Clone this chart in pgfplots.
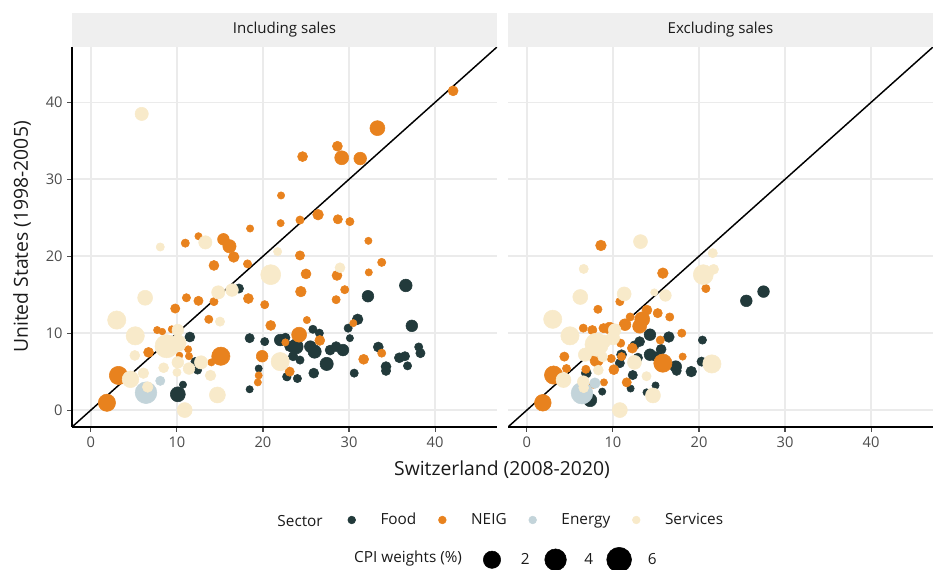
\documentclass[border=0pt]{standalone}
\usepackage{fontspec}
\setmainfont{Open Sans}
\usepackage{pgfplots}
\pgfplotsset{compat=1.18}
\definecolor{food}{HTML}{223A3B}
\definecolor{neig}{HTML}{E8821E}
\definecolor{energy}{HTML}{C3D4DA}
\definecolor{serv}{HTML}{F8EACA}
\definecolor{gridc}{HTML}{EBEBEB}
\definecolor{stripc}{HTML}{EFEFEF}
\definecolor{tickc}{HTML}{4D4D4D}
\definecolor{txt}{HTML}{1A1A1A}
\pgfplotsset{
 panel/.style={
  at={(#1,107.25pt)}, anchor=south west,
  scale only axis, width=318.75pt, height=285pt,
  xmin=-2.2, xmax=47.2, ymin=-2.2, ymax=47.2,
  xtick={0,10,20,30,40}, ytick={0,10,20,30,40},
  axis x line*=bottom, axis y line*=left,
  axis line style={-, black, line width=1.3pt},
  grid=major, major grid style={gridc, line width=1.2pt},
  tick align=outside, major tick length=3.5pt,
  tick style={tickc, line width=0.8pt},
  tick label style={font=\fontsize{11}{13}\selectfont, text=tickc},
  /pgf/number format/assume math mode=true,
 },
 bub/.style={
  scatter, only marks, mark=*,
  scatter/use mapped color={draw=#1, fill=#1},
  visualization depends on={\thisrow{d}\as\dd},
  scatter/@pre marker code/.append style={/tikz/mark size=0.375*\dd},
 },
 legbox/.style={
  hide axis, scale only axis, width=1pt, height=1pt,
  xmin=0, xmax=1, ymin=0, ymax=1,
  at={(#1)}, anchor=south west,
  legend columns=-1,
  legend image code/.code={\path[draw=none, fill=none] (-12pt,-6pt) rectangle (12pt,6pt); \draw[##1] plot coordinates {(0pt,0pt)};},
  legend style={at={(0,0)}, anchor=west, draw=none, fill=none, inner sep=0pt, outer sep=0pt,
   font=\fontsize{11.5}{13}\selectfont, text=txt,
   /tikz/every even column/.append style={column sep=5.5pt},
   /tikz/every odd column/.append style={column sep=7.6pt}},
 },
}
\begin{document}
\begin{tikzpicture}[x=1pt,y=1pt]
\path[use as bounding box] (0,0) rectangle (699.75,427.5);

% ---------- Left panel: Including sales ----------
\begin{axis}[panel=54pt]
\addplot[bub=food] table {
x y d
17.2 15.8 9.3
11.5 9.5 10
12.1 6.3 8.3
12.4 5.2 8.3
10.7 3.3 7.3
10.1 2.05 15
18.45 9.35 9.3
20.2 8.9 8.3
19.5 5.4 7.3
18.45 2.7 7.3
22.0 9.1 11.7
22.8 4.3 8
36.6 16.2 12.7
32.2 14.8 11.7
31.0 11.8 10.7
29.9 10.65 8.3
37.3 10.95 11.7
30.1 9.35 7.3
25.8 10.5 8.3
26.55 10.0 8.3
23.8 8.25 15
23.1 8.25 10
25.5 8.25 11.7
26.0 7.6 13.3
23.5 7.0 9.3
24.3 6.5 8.3
27.8 7.8 10
28.5 8.25 10
29.3 7.8 11.7
27.4 6.0 13.3
33.4 8.2 10
35.85 6.8 10
36.5 7.0 9.3
38.1 8.2 8.3
38.3 7.4 9.3
36.8 5.75 8.3
34.3 5.65 10
34.3 5.1 9.3
30.6 4.8 8.3
25.9 4.8 10
22.75 4.35 8.3
24.0 4.1 8.3
22.6 9.4 9.3
};
\addplot[bub=neig] table {
x y d
10.97 21.7 8.3
12.5 22.6 7.3
15.4 22.2 11.7
16.1 21.3 13.3
16.6 19.9 10.7
18.5 23.6 7.3
14.3 18.8 10
18.2 19.0 8.3
18.3 14.5 10
20.2 13.7 8.3
20.9 11.0 10
11.1 14.6 8.3
12.5 14.2 9.3
14.3 14.1 8.3
9.8 13.2 9.3
13.7 11.8 8.3
7.7 10.4 7.3
8.3 10.2 6.7
9.4 10.5 7.3
11.3 7.9 7.3
6.7 7.5 10
10.3 7.1 6.7
11.4 7.0 7.3
15.1 7.0 18.3
14.0 6.2 7.3
3.2 4.5 18.3
1.86 0.95 17.3
19.9 7.0 11.7
19.5 4.5 7.3
19.4 3.6 7.3
22.6 8.8 7.3
24.3 20.1 9.3
25.0 17.7 10
28.6 17.5 10
33.8 19.2 8.3
32.3 17.9 7.3
24.4 15.4 10.7
29.5 15.65 8.3
28.5 14.35 8.3
25.1 11.7 7.3
30.5 11.3 7.3
24.2 9.8 15
26.6 9.05 10
33.8 7.4 8.3
31.7 6.6 10
23.1 5.0 9.3
42.1 41.5 10
33.3 36.65 15
28.65 34.3 10
29.15 32.8 14
31.3 32.7 12.7
24.6 32.95 10
22.1 27.9 7.3
22.05 24.3 7.3
24.3 24.7 8.3
26.4 25.4 10.7
28.7 24.8 9.3
30.1 24.5 8.3
32.25 22.0 7.3
};
\addplot[bub=energy] table {
x y d
8.06 3.8 9.3
6.4 2.25 21.7
};
\addplot[bub=serv] table {
x y d
8.06 21.2 8.3
13.3 21.8 13.3
21.7 20.6 8.3
20.9 17.6 20
16.4 15.6 12.7
14.8 15.3 13.3
6.3 14.6 15
3.0 11.7 18.3
15.0 11.5 9.3
10.1 10.4 11.7
5.15 9.65 18.3
8.8 8.3 23.3
10.1 8.7 16.7
5.1 7.1 10
12.8 6.2 13.3
10.1 6.2 11.7
11.4 5.4 11.7
8.45 5.5 10
10.0 4.9 8.3
13.9 4.5 10.7
4.6 4.0 16.7
6.1 4.8 10.7
6.6 3.0 10.7
14.7 1.96 16
10.9 0.0 15
22.0 6.3 18.3
28.95 18.5 10
5.9 38.5 13.3
};
\addplot[black, line width=1.1pt] coordinates {(-2.2,-2.2) (47.2,47.2)};
\end{axis}

% ---------- Right panel: Excluding sales ----------
\begin{axis}[panel=381pt, y axis line style={draw=none}, ytick style={draw=none}, yticklabel style={opacity=0}]
\addplot[bub=food] table {
x y d
25.5 14.2 11.7
27.5 15.4 11.7
14.3 9.8 11.7
16.5 9.5 10.7
20.4 9.1 8.3
12.5 8.4 9.3
15.6 7.9 10
14.3 7.2 11.7
11.0 7.2 10
17.3 5.65 11.7
19.1 5.0 10.7
20.3 6.3 9.3
7.35 1.3 13.3
8.75 2.4 7.3
6.9 4.8 10
12.3 4.55 9.3
12.05 2.8 7.3
14.95 3.2 7.3
13.9 2.3 7.3
15.0 6.95 10
15.7 6.3 10
10.8 6.1 9.3
13.1 8.9 10
17.4 5.1 9.3
12.9 6.8 9.3
};
\addplot[bub=neig] table {
x y d
8.6 21.4 10.7
20.8 15.8 8.3
15.8 17.8 10.7
10.8 14.1 8.3
8.25 13.1 8.3
13.95 13.0 10
15.2 12.6 9.3
16.6 12.1 8.3
13.4 11.8 15
12.0 12.1 8.3
13.1 10.9 14
11.4 11.1 11.7
6.55 10.65 8.3
7.6 10.4 9.3
8.9 10.65 9.3
9.6 10.65 11.7
18.0 10.0 8.3
15.5 9.1 8.3
10.9 8.7 8.3
12.25 8.05 10
18.1 6.95 7.3
4.35 6.95 9.3
11.0 6.95 8.3
8.1 6.5 13.3
15.8 6.1 18.3
3.1 4.55 18.3
4.6 5.4 8.3
7.7 3.3 7.3
8.95 3.6 7.3
6.85 5.3 8.3
11.6 3.6 9.3
1.85 0.95 16.7
10.1 5.25 10
9.8 6.7 8.3
};
\addplot[bub=energy] table {
x y d
7.9 3.5 10.7
6.4 2.2 21.7
};
\addplot[bub=serv] table {
x y d
13.2 21.9 14
6.6 18.35 9.3
21.6 20.4 9.3
20.5 17.6 20
21.7 18.3 10
6.2 14.7 15
11.3 15.1 14
16.1 14.9 11.7
14.8 15.3 7.3
3.0 11.8 18.3
10.2 10.4 12.7
5.0 9.65 18.3
8.1 8.5 23.3
10.0 9.35 13.3
12.5 6.2 14
21.5 6.0 18.3
4.25 3.9 15
6.55 3.7 11.7
13.9 4.4 9.3
14.65 1.9 15
10.8 0.0 15
8.95 8.9 13.3
8.3 5.2 10
6.6 2.9 10
6.75 7.2 13.3
8.8 6.9 10
};
\addplot[black, line width=1.1pt] coordinates {(-2.2,-2.2) (47.2,47.2)};
\end{axis}

% ---------- strips ----------
\fill[stripc] (54,392.25) rectangle (372.75,417.75);
\fill[stripc] (381,392.25) rectangle (699.75,417.75);
\node[text=txt, font=\fontsize{11.3}{13}\selectfont] at (213.4,405) {Including sales};
\node[text=txt, font=\fontsize{11.3}{13}\selectfont] at (540.4,405) {Excluding sales};

% ---------- axis titles ----------
\node[text=txt, font=\fontsize{14.5}{17}\selectfont] at (376.5,75) {Switzerland (2008-2020)};
\node[text=txt, font=\fontsize{14.5}{17}\selectfont, rotate=90] at (16.5,249.75) {United States (1998-2005)};

% ---------- legends ----------
\node[text=txt, font=\fontsize{11.5}{13}\selectfont, anchor=base east, inner sep=0pt] at (242.25,32.5) {Sector};
\node[text=txt, font=\fontsize{11.5}{13}\selectfont, anchor=base east, inner sep=0pt] at (346.7,5.25) {CPI weights (\%)};

\begin{axis}[legbox={251.8pt,37.5pt}]
\addlegendimage{only marks, mark=*, mark size=2.9pt, mark options={draw=food, fill=food}}
\addlegendentry{Food}
\addlegendimage{only marks, mark=*, mark size=2.9pt, mark options={draw=neig, fill=neig}}
\addlegendentry{NEIG}
\addlegendimage{only marks, mark=*, mark size=2.9pt, mark options={draw=energy, fill=energy}}
\addlegendentry{Energy}
\addlegendimage{only marks, mark=*, mark size=2.9pt, mark options={draw=serv, fill=serv}}
\addlegendentry{Services}
\end{axis}

\begin{axis}[legbox={357pt,7.7pt}]
\addlegendimage{only marks, mark=*, mark size=6.5pt, mark options={draw=black, fill=black}}
\addlegendentry{2}
\addlegendimage{only marks, mark=*, mark size=8.1pt, mark options={draw=black, fill=black}}
\addlegendentry{4}
\addlegendimage{only marks, mark=*, mark size=9.3pt, mark options={draw=black, fill=black}}
\addlegendentry{6}
\end{axis}
\end{tikzpicture}
\end{document}
